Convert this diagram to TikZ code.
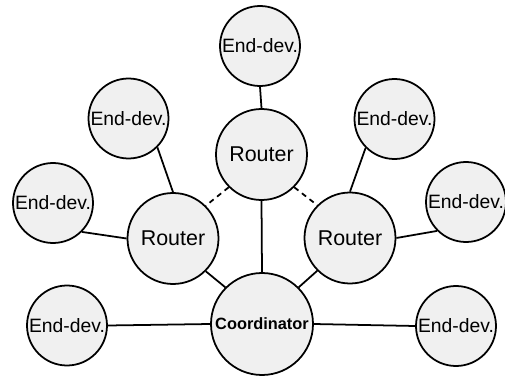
\documentclass[tikz,border=0pt]{standalone}
\usepackage{fontspec}
\setmainfont{Liberation Sans}
\usepackage{tikz}
\usetikzlibrary{positioning}
\usepackage{xcolor}
\definecolor{nodefill}{HTML}{F0F0F0}
\definecolor{ink}{HTML}{000000}
\tikzset{
  devbox/.style={circle,draw=ink,fill=nodefill,line width=1pt,inner sep=0pt,
    minimum size=1.6cm,font=\fontsize{11}{13}\selectfont},
  routerbox/.style={devbox,minimum size=1.82cm,font=\fontsize{12.2}{14}\selectfont},
  coordbox/.style={devbox,minimum size=2.04cm,font=\fontsize{9.3}{11}\selectfont\bfseries},
  link/.style={draw=ink,line width=1pt},
  weaklink/.style={link,dash pattern=on 3pt off 2.5pt}
}

\begin{document}
\begin{tikzpicture}
  \useasboundingbox (0,0) rectangle (10.1,7.5);
  % coordinator and routers
  \node[coordbox]  (coord) at (5.24,1.02) {Coordinator};
  \node[routerbox] (rtop)  at (5.23,4.41) {Router};
  \node[routerbox] (rleft) at (3.46,2.73) {Router};
  \node[routerbox] (rright) at (7.00,2.74) {Router};
  % end devices
  \node[devbox] (etop)  at (5.20,6.58) {End-dev.};
  \node[devbox] (eul)   at (2.57,5.13) {End-dev.};
  \node[devbox] (eur)   at (7.89,5.12) {End-dev.};
  \node[devbox] (eleft) at (1.06,3.44) {End-dev.};
  \node[devbox] (eright) at (9.32,3.46) {End-dev.};
  \node[devbox] (ebl)   at (1.34,0.99) {End-dev.};
  \node[devbox] (ebr)   at (9.12,0.98) {End-dev.};
  % links
  \foreach \a/\b in {etop.south/rtop.north, rtop.south/coord.north,
      eul.-45/rleft.north, eleft.-45/rleft.west, rleft.-45/coord.135,
      eur.-135/rright.north, eright.-135/rright.east, rright.-135/coord.45,
      ebl.east/coord.west, ebr.west/coord.east}
    \draw[link] (\a) -- (\b);
  \draw[weaklink] (rtop.-135) -- (rleft.45);
  \draw[weaklink] (rtop.-45) -- (rright.135);
\end{tikzpicture}
\end{document}
